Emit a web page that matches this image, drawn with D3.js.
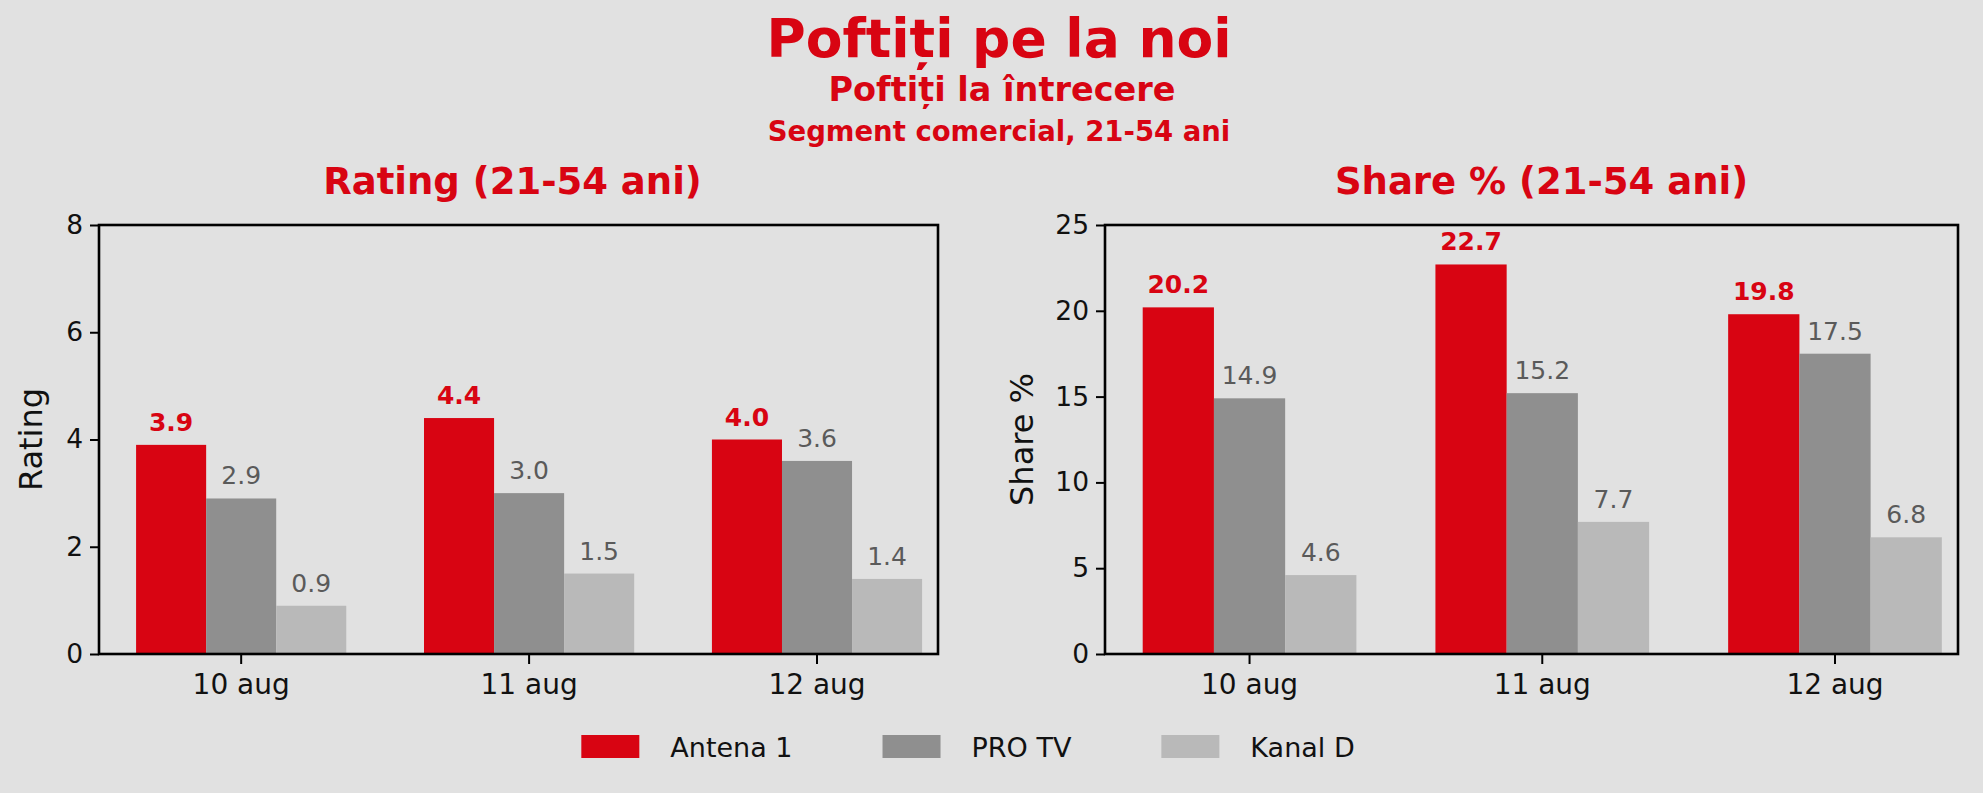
<!DOCTYPE html>
<html>
<head>
<meta charset="utf-8">
<script src="https://cdn.jsdelivr.net/npm/d3@7"></script>
<style>
  html, body { margin: 0; padding: 0; background: #e1e1e1; }
  svg { display: block; font-family: 'DejaVu Sans', sans-serif; }
</style>
</head>
<body>
<div id="chart"></div>
<script>
const W = 1983
const H = 793

const dates = ['10 aug', '11 aug', '12 aug']
const channels = ['Antena 1', 'PRO TV', 'Kanal D']

const ratingAntena1 = [3.9, 4.4, 4.0]
const ratingProTv = [2.9, 3.0, 3.6]
const ratingKanalD = [0.9, 1.5, 1.4]
const ratingTicks = [0, 2, 4, 6, 8]

const shareAntena1 = [20.2, 22.7, 19.8]
const shareProTv = [14.9, 15.2, 17.5]
const shareKanalD = [4.6, 7.7, 6.8]
const shareTicks = [0, 5, 10, 15, 20, 25]

const RED = '#d80412'
const TITLE_X = 999
const colorScale = d3
  .scaleOrdinal()
  .domain(channels)
  .range([RED, '#8f8f8f', '#b9b9b9'])

const svg = d3
  .select('#chart')
  .append('svg')
  .attr('width', W)
  .attr('height', H)

svg
  .append('rect')
  .attr('width', W)
  .attr('height', H)
  .attr('fill', '#e1e1e1')

// titles
svg
  .append('text')
  .text('Poftiți pe la noi')
  .attr('x', TITLE_X)
  .attr('y', 57)
  .attr('text-anchor', 'middle')
  .attr('font-size', 53.5)
  .attr('font-weight', 'bold')
  .attr('fill', RED)

svg
  .append('text')
  .text('Poftiți la întrecere')
  .attr('x', TITLE_X + 3)
  .attr('y', 101)
  .attr('text-anchor', 'middle')
  .attr('font-size', 33.5)
  .attr('font-weight', 'bold')
  .attr('fill', RED)

svg
  .append('text')
  .text('Segment comercial, 21-54 ani')
  .attr('x', TITLE_X)
  .attr('y', 141)
  .attr('text-anchor', 'middle')
  .attr('font-size', 27.5)
  .attr('font-weight', 'bold')
  .attr('fill', RED)

function drawPanel(opts) {
  const left = opts.left
  const right = opts.right
  const top = 225
  const bottom = 654
  const w = right - left
  const h = bottom - top

  const g = svg
    .append('g')
    .attr('transform', 'translate(' + left + ',' + top + ')')

  const xScale = d3
    .scaleBand()
    .domain(dates)
    .range([0, w])
    .paddingInner(0.27)
    .paddingOuter(0.092)
    .align(0.7)

  const xInner = d3
    .scaleBand()
    .domain(channels)
    .range([0, xScale.bandwidth()])

  const yScale = d3
    .scaleLinear()
    .domain([0, opts.ticks[opts.ticks.length - 1]])
    .range([h, 0])

  const rows = dates.map((d, i) => ({
    date: d,
    values: channels.map((c, j) => ({ channel: c, value: opts.series[j][i] }))
  }))

  const groups = g
    .selectAll('.group')
    .data(rows)
    .enter()
    .append('g')
    .attr('class', 'group')
    .attr('transform', d => 'translate(' + xScale(d.date) + ',0)')

  groups
    .selectAll('rect')
    .data(d => d.values)
    .enter()
    .append('rect')
    .attr('x', d => xInner(d.channel))
    .attr('y', d => yScale(d.value))
    .attr('width', xInner.bandwidth())
    .attr('height', d => h - yScale(d.value))
    .attr('fill', d => colorScale(d.channel))

  groups
    .selectAll('.val')
    .data(d => d.values)
    .enter()
    .append('text')
    .attr('class', 'val')
    .attr('x', d => xInner(d.channel) + xInner.bandwidth() / 2)
    .attr('y', d => yScale(d.value) - 14)
    .attr('text-anchor', 'middle')
    .attr('font-size', 25)
    .attr('font-weight', d => (d.channel === 'Antena 1' ? 'bold' : 'normal'))
    .attr('fill', d => (d.channel === 'Antena 1' ? RED : '#5a5a5a'))
    .text(d => d.value.toFixed(1))

  const yAxis = g
    .append('g')
    .call(
      d3
        .axisLeft(yScale)
        .tickValues(opts.ticks)
        .tickSize(9)
        .tickPadding(7)
    )
  yAxis.select('.domain').remove()
  yAxis.selectAll('line').attr('stroke', '#000').attr('stroke-width', 2)
  yAxis
    .selectAll('text')
    .attr('font-size', 26.5)
    .attr('fill', '#111')
    .attr('font-family', 'DejaVu Sans, sans-serif')

  const xAxis = g
    .append('g')
    .attr('transform', 'translate(0,' + h + ')')
    .call(
      d3
        .axisBottom(xScale)
        .tickSize(10)
        .tickPadding(10)
    )
  xAxis.select('.domain').remove()
  xAxis.selectAll('line').attr('stroke', '#000').attr('stroke-width', 2)
  xAxis
    .selectAll('text')
    .attr('font-size', 28)
    .attr('fill', '#111')
    .attr('font-family', 'DejaVu Sans, sans-serif')

  // frame
  g.append('rect')
    .attr('width', w)
    .attr('height', h)
    .attr('fill', 'none')
    .attr('stroke', '#000')
    .attr('stroke-width', 2.6)

  g.append('text')
    .text(opts.title)
    .attr('x', w / 2 + opts.titleDx)
    .attr('y', -31)
    .attr('text-anchor', 'middle')
    .attr('font-size', 37)
    .attr('font-weight', 'bold')
    .attr('fill', RED)

  g.append('text')
    .text(opts.ylabel)
    .attr('transform', 'translate(' + opts.ylabelX + ',' + h / 2 + ') rotate(-90)')
    .attr('text-anchor', 'middle')
    .attr('font-size', 32)
    .attr('fill', '#111')
}

drawPanel({
  left: 99,
  right: 938,
  title: 'Rating (21-54 ani)',
  titleDx: -6,
  ylabel: 'Rating',
  ylabelX: -57,
  ticks: ratingTicks,
  series: [ratingAntena1, ratingProTv, ratingKanalD]
})

drawPanel({
  left: 1105,
  right: 1958,
  title: 'Share % (21-54 ani)',
  titleDx: 10,
  ylabel: 'Share %',
  ylabelX: -72,
  ticks: shareTicks,
  series: [shareAntena1, shareProTv, shareKanalD]
})

// legend
const legend = svg.append('g').attr('class', 'legend')
const items = legend
  .selectAll('g')
  .data(channels)
  .enter()
  .append('g')

items
  .append('rect')
  .attr('width', 58)
  .attr('height', 23)
  .attr('y', -12)
  .attr('fill', d => colorScale(d))

items
  .append('text')
  .attr('x', 89)
  .attr('dy', '0.36em')
  .attr('font-size', 27)
  .attr('fill', '#111')
  .text(d => d)

let cursor = 0
items.each(function() {
  const itemWidth = 89 + d3.select(this).select('text').node().getComputedTextLength()
  d3.select(this).attr('transform', 'translate(' + cursor + ',0)')
  cursor += itemWidth + 90
})
const legendWidth = cursor - 90
legend.attr('transform', 'translate(' + (968 - legendWidth / 2) + ',747)')
</script>
</body>
</html>
